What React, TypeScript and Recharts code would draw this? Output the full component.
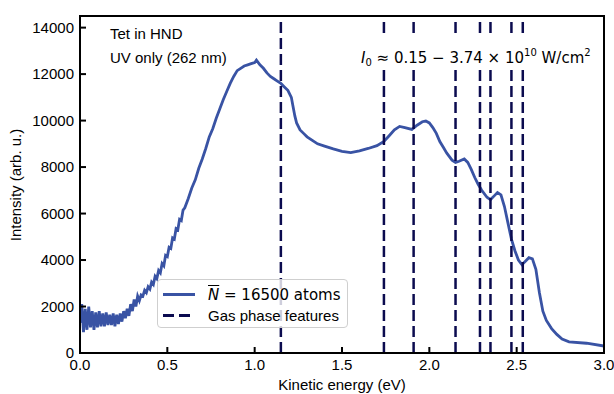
import React from 'react';
import { LineChart, Line, XAxis, YAxis, ReferenceLine } from 'recharts';

// kinetic energy (eV)
const KE = [
  0.00, 0.01, 0.02, 0.03, 0.04, 0.05, 0.06, 0.07, 0.08, 0.09,
  0.10, 0.11, 0.12, 0.13, 0.14, 0.15, 0.16, 0.17, 0.18, 0.19,
  0.20, 0.21, 0.22, 0.23, 0.24, 0.25, 0.26, 0.27, 0.28, 0.29,
  0.30, 0.31, 0.32, 0.33, 0.34, 0.35, 0.36, 0.37, 0.38, 0.39,
  0.40, 0.41, 0.42, 0.43, 0.44, 0.45, 0.46, 0.47, 0.48, 0.49,
  0.50, 0.51, 0.52, 0.53, 0.54, 0.55, 0.56, 0.57, 0.58, 0.59,
  0.60, 0.62, 0.64, 0.66, 0.68, 0.70, 0.72, 0.74, 0.76, 0.78,
  0.80, 0.82, 0.84, 0.86, 0.88, 0.90, 0.92, 0.94, 0.96, 0.98,
  1.00, 1.01, 1.03, 1.05, 1.07, 1.09, 1.11, 1.13, 1.15, 1.17,
  1.19, 1.21, 1.22, 1.23, 1.24, 1.26, 1.28, 1.30, 1.33, 1.36,
  1.40, 1.45, 1.50, 1.55, 1.60, 1.65, 1.70, 1.74, 1.77, 1.80,
  1.83, 1.86, 1.90, 1.93, 1.96, 1.98, 2.00, 2.02, 2.04, 2.06,
  2.08, 2.10, 2.13, 2.15, 2.17, 2.20, 2.22, 2.24, 2.26, 2.28,
  2.30, 2.33, 2.35, 2.37, 2.39, 2.41, 2.43, 2.45, 2.47, 2.49,
  2.51, 2.53, 2.55, 2.57, 2.59, 2.61, 2.63, 2.65, 2.67, 2.70,
  2.73, 2.76, 2.80, 2.90, 3.00,
];

// intensity (arb. u.), N = 16500 atoms
const INTENSITY = [
  1300, 2100, 900, 1900, 1000, 2000, 1100, 1800, 1000, 1750,
  1100, 1800, 1150, 1700, 1150, 1750, 1200, 1650, 1200, 1700,
  1150, 1650, 1250, 1700, 1350, 1800, 1500, 1900, 1600, 2100,
  1800, 2300, 2000, 2450, 2250, 2500, 2450, 2700, 2600, 2850,
  2750, 3050, 2950, 3300, 3200, 3550, 3450, 3850, 3750, 4200,
  4150, 4550, 4500, 4950, 4900, 5350, 5300, 5750, 5700, 6150,
  6250, 6650, 7100, 7450, 7950, 8350, 8800, 9300, 9650, 10100,
  10500, 10900, 11250, 11600, 11900, 12150, 12250, 12350, 12400, 12450,
  12500, 12600, 12400, 12250, 12050, 11900, 11800, 11700, 11600, 11450,
  11300, 11000, 10600, 10200, 9900, 9600, 9450, 9300, 9150, 9000,
  8900, 8780, 8680, 8620, 8700, 8800, 8920, 9100, 9350, 9600,
  9750, 9700, 9620, 9800, 9950, 9980, 9900, 9700, 9450, 9100,
  8850, 8600, 8300, 8200, 8250, 8350, 8200, 7900, 7550, 7250,
  7000, 6700, 6600, 6750, 6900, 6800, 6300, 5600, 4900, 4400,
  4000, 3800, 3950, 4100, 4050, 3600, 2600, 1800, 1400, 1050,
  800, 600, 480, 420, 300,
];

// gas phase feature energies (eV)
const GAS_FEATURES = [1.15, 1.74, 1.91, 2.15, 2.29, 2.35, 2.47, 2.535];

const X_TICKS = [0, 0.5, 1.0, 1.5, 2.0, 2.5, 3.0];
const Y_TICKS = [0, 2000, 4000, 6000, 8000, 10000, 12000, 14000];

const data = KE.map((ke, i) => ({ ke, y: INTENSITY[i] }));

const BLUE = '#3953a4';
const NAVY = '#0b0b4f';
const SANS = '"Liberation Sans", Arial, sans-serif';
const DEJAVU = '"DejaVu Sans", sans-serif';

function YLabel() {
  return (
    <text x={15} y={185} transform="rotate(-90 15 185)" textAnchor="middle" dominantBaseline="central"
      fontSize={15} fill="#000" fontFamily={SANS}>Intensity (arb. u.)</text>
  );
}

function XLabel() {
  return (
    <text x={342} y={384} textAnchor="middle" dominantBaseline="central"
      fontSize={15} fill="#000" fontFamily={SANS}>Kinetic energy (eV)</text>
  );
}

function GasLegend() {
  return (
    <div style={{
      position: 'absolute', left: 157, top: 279, width: 191, height: 49,
      border: '1.5px solid #cfcfcf', borderRadius: 4,
      background: 'rgba(255,255,255,0.8)', boxSizing: 'border-box', fontSize: 15, color: '#000',
    }}>
      <div style={{ display: 'flex', alignItems: 'center', height: 21, marginTop: 4 }}>
        <div style={{ width: 32, height: 2.5, background: BLUE, marginLeft: 5, marginRight: 13 }} />
        <span style={{ fontFamily: DEJAVU, whiteSpace: 'nowrap' }}>
          <i style={{ textDecoration: 'overline' }}>N</i> = 16500 atoms
        </span>
      </div>
      <div style={{ display: 'flex', alignItems: 'center', height: 20 }}>
        <div style={{ width: 32, height: 3, marginLeft: 5, marginRight: 13,
          background: `linear-gradient(90deg, ${NAVY} 0 11px, transparent 11px 16px, ${NAVY} 16px 27px, transparent 27px)` }} />
        <span style={{ fontFamily: SANS, whiteSpace: 'nowrap' }}>Gas phase features</span>
      </div>
    </div>
  );
}

export default function App() {
  return (
    <div style={{ position: 'absolute', left: 0, top: 0, width: 614, height: 394, background: '#fff', fontFamily: SANS }}>
      <LineChart width={614} height={394} data={data} margin={{ top: 16, right: 10, left: 0, bottom: 0 }}>
        <XAxis dataKey="ke" type="number" domain={[0, 3]} ticks={X_TICKS} tickFormatter={(v: number) => v.toFixed(1)}
          height={41} axisLine={{ stroke: '#000', strokeWidth: 2 }} tickLine={{ stroke: '#000', strokeWidth: 2 }}
          tickSize={-6} tickMargin={12} tick={{ fill: '#000', fontSize: 15, fontFamily: SANS }}
          interval={0} allowDataOverflow label={<XLabel />} />
        <YAxis domain={[0, 14500]} ticks={Y_TICKS} width={80} allowDataOverflow
          axisLine={{ stroke: '#000', strokeWidth: 2 }} tickLine={{ stroke: '#000', strokeWidth: 2 }}
          tickSize={-6} tickMargin={12} tick={{ fill: '#000', fontSize: 15, fontFamily: SANS }}
          interval={0} label={<YLabel />} />
        <Line dataKey="y" stroke={BLUE} strokeWidth={2.8} dot={false} isAnimationActive={false} />
        {GAS_FEATURES.map((e) => (
          <ReferenceLine key={e} x={e} stroke={NAVY} strokeWidth={2.5} strokeDasharray="11 5" />
        ))}
      </LineChart>

      {/* axes frame */}
      <div style={{ position: 'absolute', left: 79, top: 15, width: 526, height: 339, border: '2px solid #000', boxSizing: 'border-box', pointerEvents: 'none' }} />

      <GasLegend />

      <div style={{ position: 'absolute', left: 110, top: 24, fontSize: 15, lineHeight: '20px', color: '#000' }}>Tet in HND</div>
      <div style={{ position: 'absolute', left: 110, top: 48, fontSize: 15, lineHeight: '20px', color: '#000' }}>UV only (262 nm)</div>
      <div style={{
        position: 'absolute', left: 357, top: 35, height: 35, padding: '0 4px', background: '#fff',
        fontFamily: DEJAVU, fontSize: 15, lineHeight: '35px', color: '#000', whiteSpace: 'nowrap',
      }}>
        <i>I</i><sub style={{ fontSize: 10, verticalAlign: '-3px' }}>0</sub> ≈ 0.15 − 3.74 × 10<sup style={{ fontSize: 10, verticalAlign: '7px' }}>10</sup> W/cm<sup style={{ fontSize: 10, verticalAlign: '7px' }}>2</sup>
      </div>
    </div>
  );
}
